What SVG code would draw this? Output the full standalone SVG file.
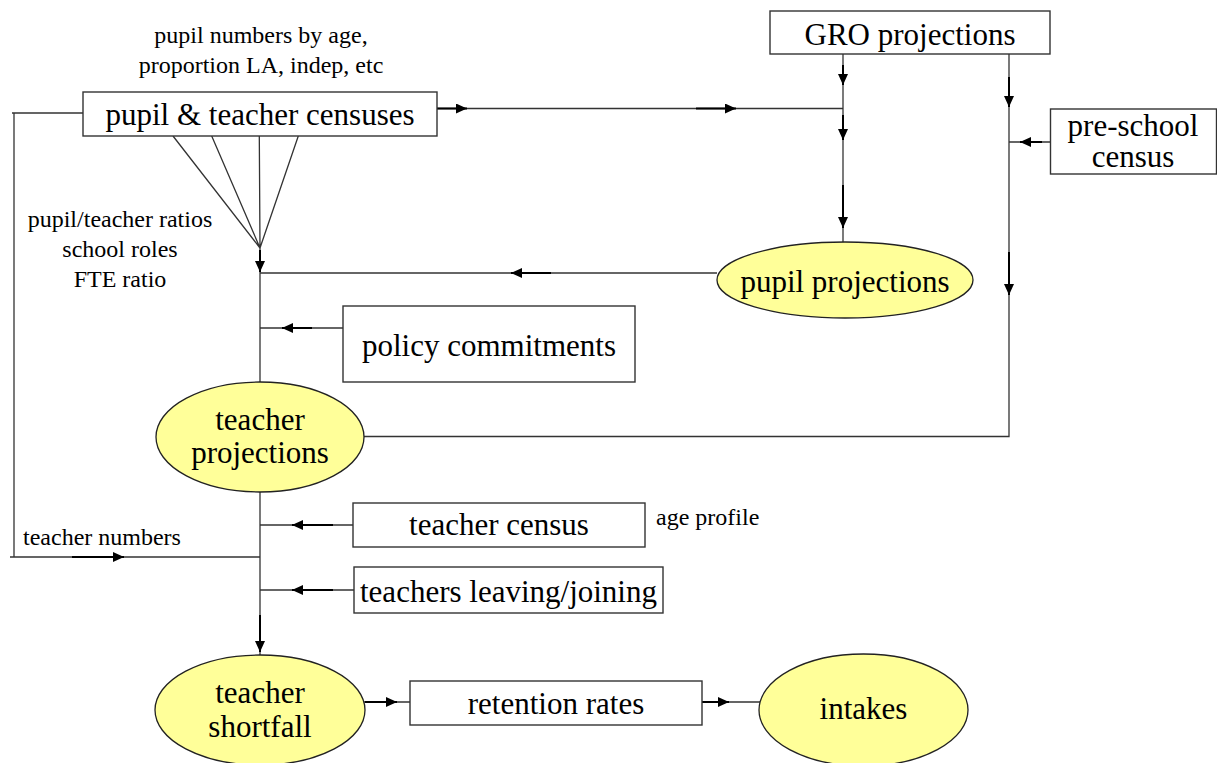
<svg xmlns="http://www.w3.org/2000/svg" width="1217" height="763" viewBox="0 0 1217 763">
<defs>
<marker id="ah" markerUnits="userSpaceOnUse" markerWidth="12" markerHeight="10" refX="11" refY="5" orient="auto">
<path d="M0,0 L11,5 L0,10 z" fill="#000"/>
</marker>
<style>
.box{fill:#fff;stroke:#333;stroke-width:1.4}
.ell{fill:#ffff99;stroke:#222;stroke-width:1.3}
.ln{fill:none;stroke:#333;stroke-width:1.3}
.ar{fill:none;stroke:#000;stroke-width:2;marker-end:url(#ah)}
.big{font-family:"Liberation Serif","Times New Roman",serif;font-size:31px;fill:#000;text-anchor:middle}
.sm{font-family:"Liberation Serif","Times New Roman",serif;font-size:24px;fill:#000}
.c{text-anchor:middle}
</style>
</defs>
<rect width="1217" height="763" fill="#fff"/>

<g id="connectors">
<!-- left feedback loop -->
<path class="ln" d="M83,113 H12 M14,113 V557 M10,557 H260"/>
<!-- censuses to GRO line -->
<path class="ln" d="M437,108.5 H843"/>
<!-- fan -->
<path class="ln" d="M173,136 L260,248 M211.7,136 L260,248 M259.3,136 L260,248 M298.3,136 L260,248"/>
<!-- main vertical -->
<path class="ln" d="M260,248 V383 M260,492 V655"/>
<!-- GRO left vertical -->
<path class="ln" d="M843,54 V242"/>
<!-- GRO right vertical & return to teacher projections -->
<path class="ln" d="M1009,54 V436.5 H364"/>
<!-- pre-school -->
<path class="ln" d="M1050,142 H1009"/>
<!-- pupil projections -->
<path class="ln" d="M717,273 H260"/>
<!-- policy -->
<path class="ln" d="M343,328 H260"/>
<!-- teacher census -->
<path class="ln" d="M353,525 H260"/>
<!-- leaving -->
<path class="ln" d="M354,590 H260"/>
<!-- bottom row -->
<path class="ln" d="M364,702 H410 M702,702 H760"/>

<!-- arrows -->
<path class="ar" d="M437,108.5 H467"/>
<path class="ar" d="M696,108.5 H736"/>
<path class="ar" d="M843,65 V85"/>
<path class="ar" d="M843,115 V140"/>
<path class="ar" d="M843,185 V228"/>
<path class="ar" d="M1009,77 V107"/>
<path class="ar" d="M1009,252 V295"/>
<path class="ar" d="M1042,142 H1020"/>
<path class="ar" d="M551,273 H511"/>
<path class="ar" d="M260,250 V272"/>
<path class="ar" d="M312,328 H282"/>
<path class="ar" d="M333,525 H292"/>
<path class="ar" d="M333,590 H292"/>
<path class="ar" d="M72,557 H124"/>
<path class="ar" d="M260,615 V652"/>
<path class="ar" d="M365,702 H397"/>
<path class="ar" d="M702,702 H729"/>
</g>

<g id="label-pupil-numbers">
<text class="sm c" x="261" y="43">pupil numbers by age,</text>
<text class="sm c" x="261" y="72.5">proportion LA, indep, etc</text>
</g>
<g id="label-ratios">
<text class="sm c" x="120" y="227">pupil/teacher ratios</text>
<text class="sm c" x="120" y="256.5">school roles</text>
<text class="sm c" x="120" y="286.5">FTE ratio</text>
</g>
<g id="label-teacher-numbers">
<text class="sm" x="23" y="545">teacher numbers</text>
</g>
<g id="label-age-profile">
<text class="sm" x="656" y="525">age profile</text>
</g>

<g id="censuses">
<rect class="box" x="83" y="92" width="354" height="44"/>
<text class="big" x="260" y="125">pupil &amp; teacher censuses</text>
</g>
<g id="gro">
<rect class="box" x="770" y="11" width="280" height="43"/>
<text class="big" x="910" y="45">GRO projections</text>
</g>
<g id="preschool">
<rect class="box" x="1050.5" y="109" width="166" height="65"/>
<text class="big" x="1133" y="136">pre-school</text>
<text class="big" x="1133" y="167">census</text>
</g>
<g id="pupil-projections">
<ellipse class="ell" cx="845" cy="280" rx="128" ry="38"/>
<text class="big" x="845" y="292">pupil projections</text>
</g>
<g id="policy">
<rect class="box" x="343" y="306" width="292" height="76"/>
<text class="big" x="489" y="356">policy commitments</text>
</g>
<g id="teacher-projections">
<ellipse class="ell" cx="260" cy="437" rx="104" ry="55"/>
<text class="big" x="260" y="430">teacher</text>
<text class="big" x="260" y="463">projections</text>
</g>
<g id="teacher-census">
<rect class="box" x="353" y="503" width="292" height="44"/>
<text class="big" x="499" y="535">teacher census</text>
</g>
<g id="leaving">
<rect class="box" x="354" y="567" width="309" height="46"/>
<text class="big" x="508.5" y="602">teachers leaving/joining</text>
</g>
<g id="shortfall">
<ellipse class="ell" cx="260" cy="710" rx="105" ry="55"/>
<text class="big" x="260" y="703">teacher</text>
<text class="big" x="260" y="737">shortfall</text>
</g>
<g id="retention">
<rect class="box" x="410" y="681" width="292" height="44"/>
<text class="big" x="556" y="714">retention rates</text>
</g>
<g id="intakes">
<ellipse class="ell" cx="863.5" cy="710" rx="104.5" ry="56"/>
<text class="big" x="863.5" y="719">intakes</text>
</g>
</svg>
